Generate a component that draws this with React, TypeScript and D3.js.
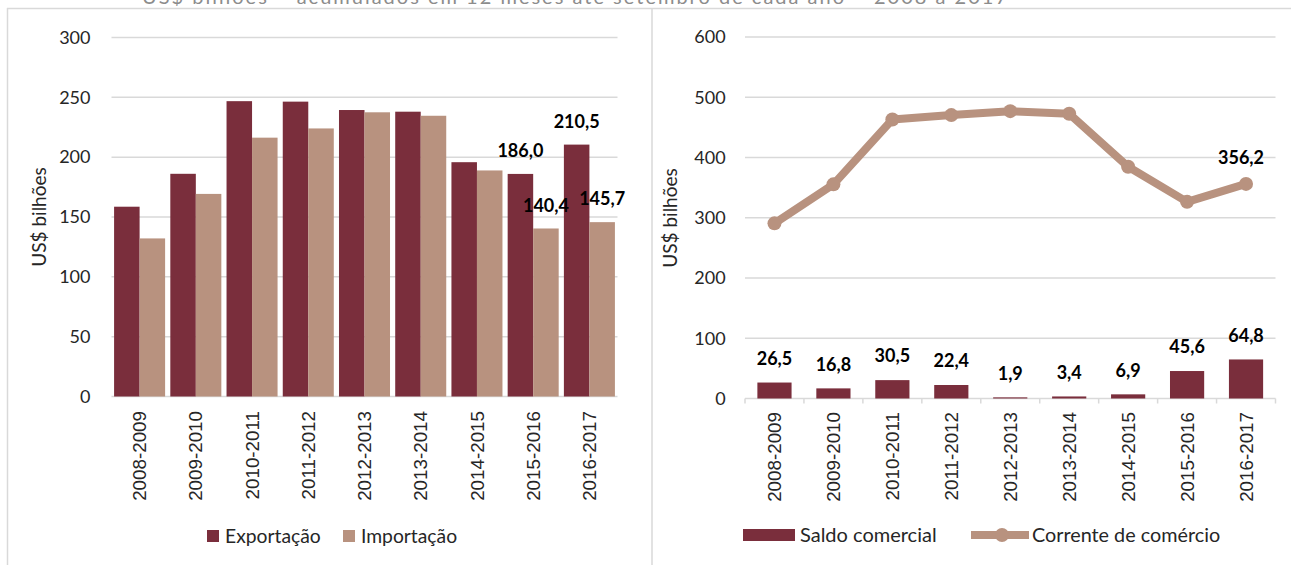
import React from 'react';
import * as d3 from 'd3';

const categories = ['2008-2009', '2009-2010', '2010-2011', '2011-2012', '2012-2013', '2013-2014', '2014-2015', '2015-2016', '2016-2017'];
const exportacao = [158.6, 186.1, 246.8, 246.4, 239.4, 238.0, 195.8, 186.0, 210.5];
const importacao = [132.1, 169.3, 216.3, 224.0, 237.5, 234.6, 188.9, 140.4, 145.7];
const saldo = [26.5, 16.8, 30.5, 22.4, 1.9, 3.4, 6.9, 45.6, 64.8];
const corrente = [290.7, 355.4, 463.1, 470.4, 476.9, 472.6, 384.7, 326.4, 356.2];
const leftTicks = [0, 50, 100, 150, 200, 250, 300];
const rightTicks = [0, 100, 200, 300, 400, 500, 600];
const leftLabelIdx = [7, 8];
const lineLabelIdx = [8];
const titleText = 'US$ bilhões – acumulados em 12 meses até setembro de cada ano – 2008 a 2017';

const DARK = '#7a2e3c';
const LIGHT = '#b8927f';
const GRID = '#d9d9d9';
const TXT = '#262626';
const FONT = 'Lato, "Open Sans", sans-serif';
const CATFONT = '"Liberation Sans", Arial, sans-serif';

const fmt = (v: number) => d3.format('.1f')(v).replace('.', ',');

export default function App() {
  // Left chart scales
  const xL = d3.scaleBand<string>().domain(categories).range([111.5, 617.5]).paddingInner(0.0925).paddingOuter(0.046);
  const xL2 = d3.scaleBand<string>().domain(['e', 'i']).range([0, xL.bandwidth()]);
  const yL = d3.scaleLinear().domain([0, 300]).range([396.5, 37.5]);

  // Right chart scales
  const xR = d3.scaleBand<string>().domain(categories).range([745, 1275.5]).paddingInner(0.42).paddingOuter(0.21);
  const yR = d3.scaleLinear().domain([0, 600]).range([398.5, 37]);
  const stepR = xR.step();
  const r0 = xR.range()[0];
  const line = d3.line<number>().x((_, i) => (xR(categories[i]) as number) + xR.bandwidth() / 2).y((d) => yR(d));

  return (
    <svg width={1291} height={565} style={{ position: 'absolute', left: 0, top: 0, display: 'block', background: '#fff' }}>
      {/* title (cut off at the top, as in the source) */}
      <text x={142} y={4} fontFamily={FONT} fontSize={20} fill="#8c8c8c" textLength={865} lengthAdjust="spacing">{titleText}</text>
      {/* panel borders */}
      <line x1={7} x2={1291} y1={8.5} y2={8.5} stroke={GRID} strokeWidth={1.5} />
      <line x1={7.5} x2={7.5} y1={8} y2={565} stroke={GRID} strokeWidth={1.5} />
      <line x1={652} x2={652} y1={8} y2={565} stroke={GRID} strokeWidth={1.5} />

      {/* LEFT CHART */}
      <g>
        {leftTicks.map((t) => (
          <g key={t}>
            <line x1={111.5} x2={617.5} y1={yL(t)} y2={yL(t)} stroke={GRID} strokeWidth={1.5} />
            <text x={90.5} y={yL(t)} dy="0.35em" textAnchor="end" fontFamily={FONT} fontSize={18} fill={TXT}>{t}</text>
          </g>
        ))}
        {categories.map((c, i) => {
          const x0 = xL(c) as number;
          return (
            <g key={c}>
              <rect x={x0 + (xL2('e') as number)} y={yL(exportacao[i])} width={xL2.bandwidth()} height={yL(0) - yL(exportacao[i])} fill={DARK} />
              <rect x={x0 + (xL2('i') as number)} y={yL(importacao[i])} width={xL2.bandwidth()} height={yL(0) - yL(importacao[i])} fill={LIGHT} />
              <text transform={`translate(${x0 + xL.bandwidth() / 2},411) rotate(-90)`} dy="0.35em" textAnchor="end" fontFamily={CATFONT} fontSize={18.8} fill={TXT}>{c}</text>
            </g>
          );
        })}
        {leftLabelIdx.map((i) => {
          const x0 = xL(categories[i]) as number;
          return (
            <g key={i}>
              <text x={x0 + (xL2('e') as number) + xL2.bandwidth() / 2} y={yL(exportacao[i]) - 23} dy="0.35em" textAnchor="middle" fontFamily={FONT} fontWeight="bold" fontSize={18} fill="#000">{fmt(exportacao[i])}</text>
              <text x={x0 + (xL2('i') as number) + xL2.bandwidth() / 2} y={yL(importacao[i]) - 23} dy="0.35em" textAnchor="middle" fontFamily={FONT} fontWeight="bold" fontSize={18} fill="#000">{fmt(importacao[i])}</text>
            </g>
          );
        })}
        <text transform="translate(46,217) rotate(-90)" textAnchor="middle" fontFamily={FONT} fontSize={19} fill={TXT}>US$ bilhões</text>
        {/* legend */}
        <rect x={207} y={530} width={12} height={12} fill={DARK} />
        <text x={225} y={536} dy="0.35em" fontFamily={FONT} fontSize={19.3} fill={TXT}>Exportação</text>
        <rect x={343} y={530} width={12} height={12} fill={LIGHT} />
        <text x={361} y={536} dy="0.35em" fontFamily={FONT} fontSize={19.3} fill={TXT}>Importação</text>
      </g>

      {/* RIGHT CHART */}
      <g>
        {rightTicks.map((t) => (
          <g key={t}>
            <line x1={745} x2={1275.5} y1={yR(t)} y2={yR(t)} stroke={GRID} strokeWidth={1.5} />
            <text x={725.6} y={yR(t)} dy="0.35em" textAnchor="end" fontFamily={FONT} fontSize={18} fill={TXT}>{t}</text>
          </g>
        ))}
        {d3.range(categories.length + 1).map((i) => (
          <line key={i} x1={r0 + i * stepR} x2={r0 + i * stepR} y1={yR(0)} y2={yR(0) + 5} stroke={GRID} strokeWidth={1.5} />
        ))}
        {categories.map((c, i) => {
          const x0 = xR(c) as number;
          const cx = x0 + xR.bandwidth() / 2;
          return (
            <g key={c}>
              <rect x={x0} y={yR(saldo[i])} width={xR.bandwidth()} height={yR(0) - yR(saldo[i])} fill={DARK} />
              <text x={cx} y={yR(saldo[i]) - 24} dy="0.35em" textAnchor="middle" fontFamily={FONT} fontWeight="bold" fontSize={18} fill="#000">{fmt(saldo[i])}</text>
              <text transform={`translate(${cx},412) rotate(-90)`} dy="0.35em" textAnchor="end" fontFamily={CATFONT} fontSize={18.8} fill={TXT}>{c}</text>
            </g>
          );
        })}
        <path d={line(corrente) as string} fill="none" stroke={LIGHT} strokeWidth={8} strokeLinejoin="round" />
        {corrente.map((v, i) => (
          <circle key={i} cx={(xR(categories[i]) as number) + xR.bandwidth() / 2} cy={yR(v)} r={7} fill={LIGHT} />
        ))}
        {lineLabelIdx.map((i) => (
          <text key={i} x={(xR(categories[i]) as number) + xR.bandwidth() / 2 - 5} y={yR(corrente[i]) - 26} dy="0.35em" textAnchor="middle" fontFamily={FONT} fontWeight="bold" fontSize={18} fill="#000">{fmt(corrente[i])}</text>
        ))}
        <text transform="translate(677,218) rotate(-90)" textAnchor="middle" fontFamily={FONT} fontSize={19} fill={TXT}>US$ bilhões</text>
        {/* legend */}
        <rect x={743} y={529} width={52} height={12} fill={DARK} />
        <text x={800} y={535} dy="0.35em" fontFamily={FONT} fontSize={20} fill={TXT}>Saldo comercial</text>
        <line x1={971} x2={1029} y1={535} y2={535} stroke={LIGHT} strokeWidth={8} />
        <circle cx={1002} cy={535} r={7} fill={LIGHT} />
        <text x={1032} y={535} dy="0.35em" fontFamily={FONT} fontSize={19.8} fill={TXT}>Corrente de comércio</text>
      </g>
    </svg>
  );
}
